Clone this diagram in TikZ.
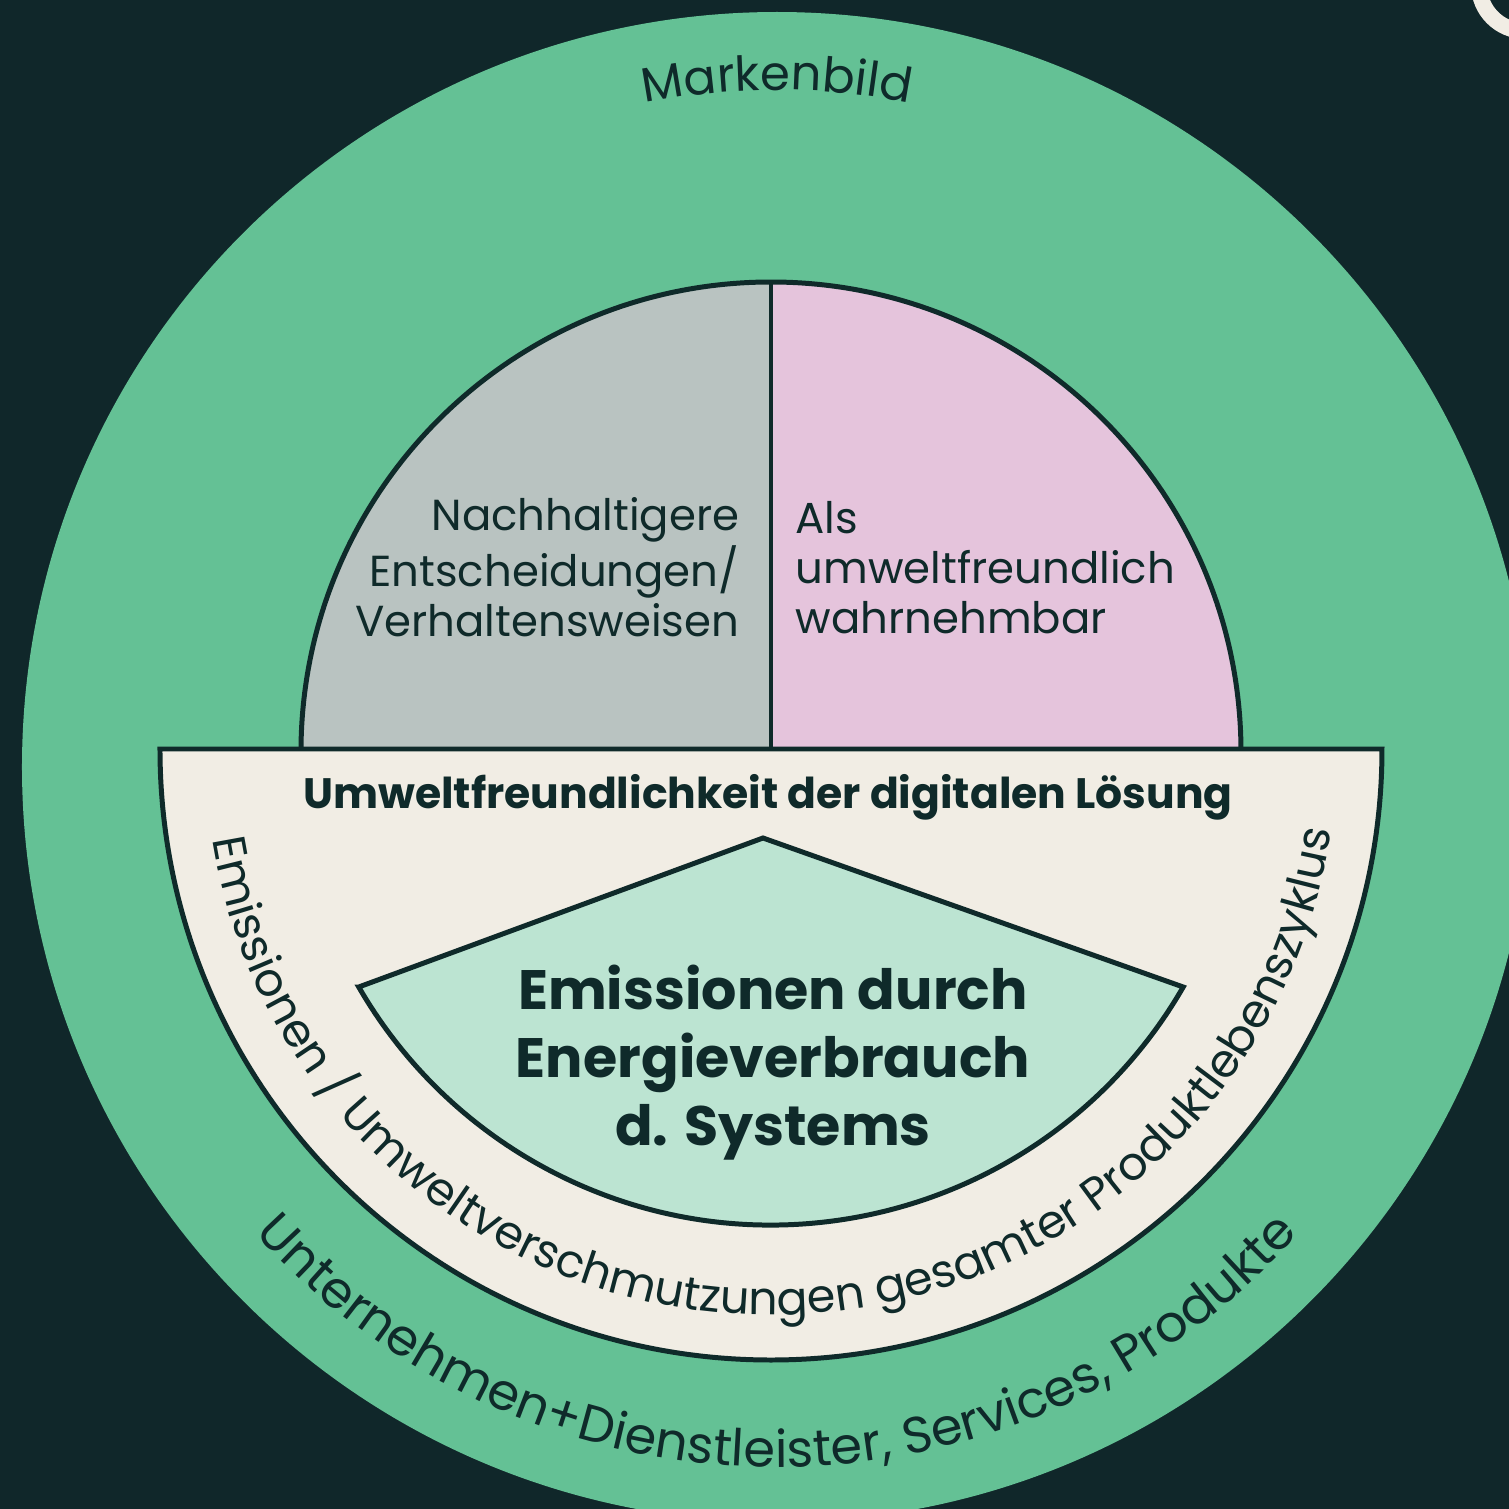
\documentclass[tikz,border=0pt]{standalone}
\usepackage{fontspec}
\setmainfont{Poppins}
\usetikzlibrary{math}
\usetikzlibrary{decorations.text}
\definecolor{bgdark}{HTML}{10272A}
\definecolor{ink}{HTML}{0F2A2A}
\definecolor{ringgreen}{HTML}{64C195}
\definecolor{stone}{HTML}{B9C3C1}
\definecolor{blush}{HTML}{E5C4DC}
\definecolor{cream}{HTML}{F1EDE4}
\definecolor{mint}{HTML}{BCE4D2}
\newcommand\blocktext{\fontsize{12.35}{14.2}\selectfont}
\newcommand\headtext{\fontsize{12.1}{15}\selectfont\bfseries}
\newcommand\coretext{\fontsize{15.8}{19.35}\selectfont\bfseries}
\newcommand\ringtext{\fontsize{13.7}{16}\selectfont}
\newcommand\outertext{\fontsize{14.5}{16}\selectfont}
\newcommand\bandtext{\fontsize{13.1}{16}\selectfont}

\begin{document}
\begin{tikzpicture}[outline/.style={draw=ink, line width=1.42pt},
	label/.style={text=ink, inner sep=0pt},
	arclabel/.style={decorate, decoration={text along path, text align=center, text color=ink, text={#1}}}]
	\tikzmath{\xlow=-7.71; \xup=7.38; \ylow=-7.62; \yup=7.47;
	\gx=0.06; \gy=-0.2; \gr=7.55;
	\hy=-0.05; \hr=4.70;
	\cy=-0.02; \br=6.11; \ir=4.76;
	\ax=-0.08; \ay=-0.91;}
	\useasboundingbox (\xlow,\ylow) rectangle (\xup,\yup);
	\fill[bgdark] (\xlow,\ylow) rectangle (\xup,\yup);
	\clip (\xlow,\ylow) rectangle (\xup,\yup);

	% outer ring
	\fill[ringgreen] (\gx,\gy) circle (\gr);
	\draw[cream, line width=4.55pt] (7.54,7.62) circle (0.46);

	% upper half disc
	\fill[stone] (0,\hy) -- (-\hr,\hy) arc (180:90:\hr) -- cycle;
	\fill[blush] (0,\hy) -- (0,\hy+\hr) arc (90:0:\hr) -- cycle;
	\draw[outline] (-\hr,\hy) arc (180:0:\hr);
	\draw[outline] (0,\hy+\hr) -- (0,\hy);

	% lower band and core
	\filldraw[outline, fill=cream] (-\br,\cy) -- (\br,\cy) arc (0:-180:\br) -- cycle;
	\filldraw[outline, fill=mint] ({\ir*cos(210)},{\cy+\ir*sin(210)}) -- (\ax,\ay)
		-- ({\ir*cos(330)},{\cy+\ir*sin(330)}) arc (330:210:\ir) -- cycle;

	\node[label, align=right, anchor=east, font=\blocktext] (choice) at (-0.31,1.80)
		{Nachhaltigere\\Entscheidungen/\\Verhaltensweisen};
	\node[label, align=left, anchor=west, font=\blocktext] (image) at (0.24,1.79)
		{Als\\umweltfreundlich\\wahrnehmbar};
	\node[label, anchor=base, font=\headtext] (head) at (-0.03,-0.61)
		{Umweltfreundlichkeit der digitalen Lösung};
	\node[label, align=center, font=\coretext] (core) at (0.02,-3.16)
		{Emissionen durch\\Energieverbrauch\\d. Systems};

	% curved labels
	\path[arclabel={|\ringtext|Markenbild}] ({\gx+6.77*cos(120)},{\gy+6.77*sin(120)}) arc (120:60:6.77);
	\path[arclabel={|\outertext|Unternehmen+Dienstleister, Services, Produkte}]
		({\gx+7.0*cos(195)},{\gy+7.0*sin(195)}) arc (195:345:7.0);
	\path[arclabel={|\bandtext|Emissionen / Umweltverschmutzungen gesamter Produktlebenszyklus}]
		({5.66*cos(182)},{\cy+5.66*sin(182)}) arc (182:359:5.66);
\end{tikzpicture}
\end{document}
